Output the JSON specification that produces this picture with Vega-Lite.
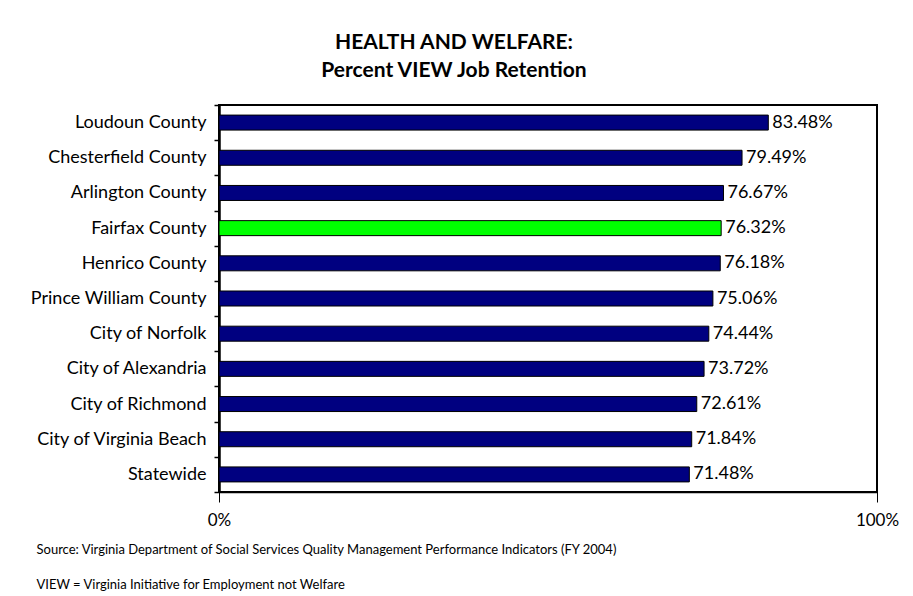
{
  "$schema": "https://vega.github.io/schema/vega-lite/v6.json",
  "width": 658,
  "height": 387,
  "autosize": {"type": "none"},
  "padding": {"left": 219, "top": 105, "right": 36, "bottom": 104},
  "background": "white",
  "title": {
    "text": ["HEALTH AND WELFARE:", "Percent VIEW Job Retention"],
    "font": "Lato",
    "fontSize": 21,
    "fontWeight": "bold",
    "color": "black",
    "anchor": "middle",
    "dx": -94,
    "lineHeight": 28,
    "offset": 15
  },
  "data": {
    "values": [
      {"name": "Loudoun County", "pct": 0.8348},
      {"name": "Chesterfield County", "pct": 0.7949},
      {"name": "Arlington County", "pct": 0.7667},
      {"name": "Fairfax County", "pct": 0.7632},
      {"name": "Henrico County", "pct": 0.7618},
      {"name": "Prince William County", "pct": 0.7506},
      {"name": "City of Norfolk", "pct": 0.7444},
      {"name": "City of Alexandria", "pct": 0.7372},
      {"name": "City of Richmond", "pct": 0.7261},
      {"name": "City of Virginia Beach", "pct": 0.7184},
      {"name": "Statewide", "pct": 0.7148}
    ]
  },
  "config": {
    "view": {"stroke": "black", "strokeWidth": 2},
    "font": "Lato"
  },
  "layer": [
    {
      "mark": {"type": "bar", "size": 15, "stroke": "black", "strokeWidth": 1},
      "encoding": {
        "y": {
          "field": "name",
          "type": "nominal",
          "sort": null,
          "scale": {"paddingInner": 0, "paddingOuter": 0},
          "axis": {
            "title": null,
            "tickBand": "extent",
            "labelFontSize": 18,
            "labelFont": "Lato",
            "labelColor": "black",
            "labelPadding": 8,
            "tickSize": 5,
            "tickColor": "black",
            "tickWidth": 1.5,
            "domainColor": "black",
            "domainWidth": 2.5
          }
        },
        "x": {
          "field": "pct",
          "type": "quantitative",
          "scale": {"domain": [0, 1]},
          "axis": {
            "values": [0, 1],
            "format": ".0%",
            "grid": false,
            "labelFlush": false,
            "tickSize": 10,
            "tickColor": "black",
            "domainColor": "black",
            "domainWidth": 1.5,
            "labelFontSize": 17,
            "labelFont": "Lato",
            "labelPadding": 10,
            "labelColor": "black",
            "title": [
              "Source: Virginia Department of Social Services Quality Management Performance Indicators (FY 2004)",
              "VIEW = Virginia Initiative for Employment not Welfare"
            ],
            "titleFont": "Lato",
            "titleFontSize": 13,
            "titleFontWeight": "normal",
            "titleColor": "black",
            "titleAnchor": "start",
            "titleAlign": "left",
            "titleBaseline": "top",
            "titleX": -183,
            "titleY": 51,
            "titleLineHeight": 35
          }
        },
        "color": {
          "condition": {"test": "datum['name'] === 'Fairfax County'", "value": "#00ff00"},
          "value": "#000080"
        }
      }
    },
    {
      "mark": {"type": "text", "align": "left", "dx": 4, "fontSize": 18, "font": "Lato", "color": "black"},
      "encoding": {
        "y": {"field": "name", "type": "nominal", "sort": null},
        "x": {"field": "pct", "type": "quantitative"},
        "text": {"field": "pct", "type": "quantitative", "format": ".2%"}
      }
    }
  ]
}
